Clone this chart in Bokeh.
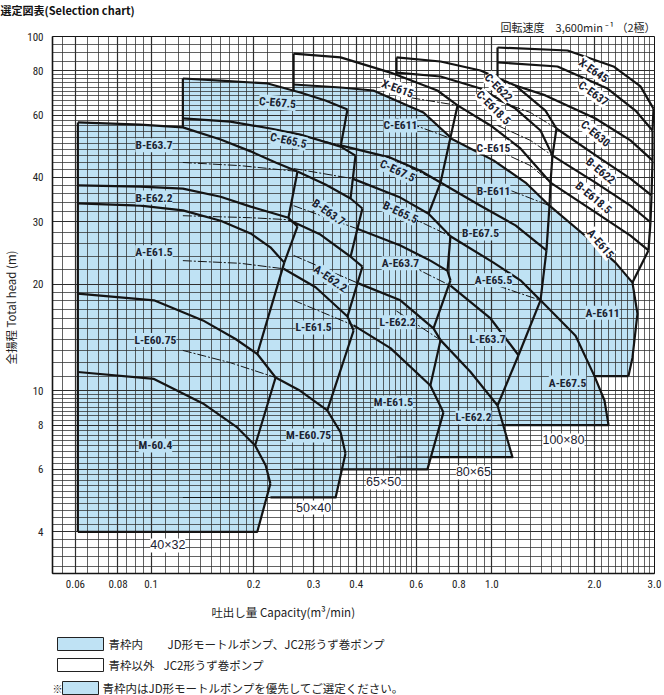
import math
from bokeh.plotting import figure
from bokeh.models import Range1d, FixedTicker, Grid, Label, Title
from bokeh.layouts import column
from bokeh.embed import file_html
from bokeh.resources import INLINE
from bokeh.core.properties import value

# ---------------- axes / ticks ----------------
Q_RANGE = (0.0514, 3.0)
H_RANGE = (3.05, 100.0)
X_TICKS = [0.06, 0.08, 0.1, 0.2, 0.3, 0.4, 0.6, 0.8, 1.0, 2.0, 3.0]
X_TICK_LABELS = ["0.06", "0.08", "0.1", "0.2", "0.3", "0.4", "0.6", "0.8", "1.0", "2.0", "3.0"]
Y_TICKS = [4, 6, 8, 10, 20, 30, 40, 60, 80, 100]
Y_TICK_LABELS = ["4", "6", "8", "10", "20", "30", "40", "60", "80", "100"]
X_GRID_STEPS = [(0.055, 0.1, 0.005), (0.1, 0.2, 0.01), (0.2, 0.6, 0.02), (0.6, 1.0, 0.05), (1.0, 3.0, 0.1)]
Y_GRID_STEPS = [(3.2, 6.0, 0.2), (6.0, 10.0, 0.25), (10.0, 20.0, 1.0), (20.0, 80.0, 2.0), (80.0, 100.0, 5.0)]

TITLE = "選定図表(Selection chart)"
SPEED = "回転速度　3,600min ⁻¹ （2極）"
X_LABEL = "吐出し量  Capacity(m³/min)"
Y_LABEL = "全揚程  Total head  (m)"

# ---------------- pump frames (capacity m3/min, head m) ----------------
# 40x32
F1_QL, F1_HB, F1_QBR, F1_BLUE_FROM, F1_LEFT_VIS, F1_BOTTOM_VIS = 0.061, 4.0, 0.205, 0, 4.0, 0.061
F1_Q = [[0.061, 0.093, 0.124, 0.160, 0.196, 0.232, 0.269],
        [0.061, 0.093, 0.124, 0.160, 0.196, 0.253, 0.269],
        [0.061, 0.093, 0.124, 0.160, 0.196, 0.224, 0.246],
        [0.061, 0.102, 0.142, 0.177, 0.205, 0.232],
        [0.061, 0.102, 0.142, 0.179, 0.202, 0.217, 0.224]]
F1_H = [[57.2, 56.4, 55.4, 51.2, 47.4, 44.1, 41.6],
        [38.0, 37.7, 37.2, 35.3, 33.1, 30.8, 29.1],
        [33.8, 33.3, 32.3, 30.2, 27.8, 25.4, 23.0],
        [18.8, 18.0, 15.8, 14.0, 12.7, 10.9],
        [11.3, 10.8, 9.21, 7.88, 7.01, 6.15, 5.47]]
F1_P = [0, 5, 6, 4, 4]
F1_HID = [0, 0, 0, 0, 0]

# 50x40
F2_QL, F2_HB, F2_QBR, F2_BLUE_FROM, F2_LEFT_VIS, F2_BOTTOM_VIS = 0.124, 5.0, 0.348, 0, 55.4, 0.224
F2_Q = [[0.124, 0.160, 0.220, 0.274, 0.325, 0.377],
        [0.124, 0.171, 0.224, 0.274, 0.360, 0.398],
        [0.124, 0.183, 0.269, 0.325, 0.385, 0.417],
        [0.124, 0.196, 0.253, 0.314, 0.385, 0.417],
        [0.124, 0.183, 0.245, 0.304, 0.377, 0.393],
        [0.124, 0.171, 0.232, 0.274, 0.329, 0.360, 0.372]]
F2_H = [[76.1, 75.1, 73.7, 69.5, 66.0, 62.2],
        [58.7, 57.5, 55.0, 52.9, 48.9, 46.1],
        [44.1, 43.2, 41.6, 38.2, 34.9, 32.7],
        [31.2, 30.8, 30.4, 27.6, 23.9, 22.4],
        [23.3, 22.9, 22.1, 19.6, 16.2, 14.8],
        [13.0, 12.0, 10.9, 10.0, 8.80, 7.63, 6.65]]
F2_P = [0, 4, 4, 4, 4, 4]
F2_HID = [0, 0, 2, 2, 2, 2]

# 65x50
F3_QL, F3_HB, F3_QBR, F3_BLUE_FROM, F3_LEFT_VIS, F3_BOTTOM_VIS = 0.262, 6.0, 0.647, 1, 70.5, 0.364
F3_Q = [[0.262, 0.360, 0.504, 0.692, 0.793],
        [0.262, 0.360, 0.449, 0.630, 0.756],
        [0.262, 0.360, 0.504, 0.617, 0.707],
        [0.262, 0.390, 0.539, 0.652, 0.756],
        [0.262, 0.401, 0.539, 0.660, 0.741, 0.756],
        [0.262, 0.406, 0.539, 0.674, 0.707],
        [0.262, 0.393, 0.504, 0.660, 0.721]]
F3_H = [[89.5, 87.3, 79.1, 70.4, 63.9],
        [73.2, 71.8, 70.4, 61.0, 51.9],
        [53.2, 49.3, 45.5, 41.8, 38.7],
        [42.4, 39.7, 35.1, 31.6, 27.3],
        [33.3, 28.7, 25.7, 23.3, 21.8, 20.5],
        [24.1, 20.1, 18.0, 15.0, 13.9],
        [18.0, 15.3, 13.2, 10.35, 8.69]]
F3_P = [0, 4, 4, 3, 4, 3, 3]
F3_HID = [0, 0, 1, 1, 1, 1, 1]

# 80x65
F4_QL, F4_HB, F4_QBR, F4_BLUE_FROM, F4_LEFT_VIS, F4_BOTTOM_VIS = 0.525, 6.5, 1.149, 3, 78.3, 0.664
F4_Q = [[0.525, 0.707, 0.926, 1.173, 1.436, 1.547],
        [0.525, 0.707, 0.926, 1.173, 1.389, 1.506],
        [0.525, 0.793, 0.991, 1.213, 1.486],
        [0.525, 0.756, 1.011, 1.255, 1.476],
        [0.525, 0.707, 0.926, 1.173, 1.446],
        [0.525, 0.756, 1.011, 1.213, 1.389],
        [0.525, 0.756, 0.991, 1.197],
        [0.525, 0.707, 0.866, 1.039]]
F4_H = [[87.3, 85.0, 80.2, 72.7, 61.8, 55.0],
        [79.1, 77.1, 71.3, 62.6, 54.3, 46.1],
        [68.2, 63.9, 56.1, 48.3, 38.7],
        [58.7, 51.6, 44.7, 38.7, 33.3],
        [44.7, 38.7, 33.3, 29.3, 24.9],
        [32.3, 27.3, 23.0, 20.5, 18.0],
        [23.6, 19.8, 16.0, 12.6],
        [16.8, 13.9, 11.3, 9.09]]
F4_P = [0, 5, 4, 4, 4, 4, 3, 3]
F4_HID = [0, 0, 1, 1, 1, 1, 1, 1]

# 100x80
F5_QL, F5_HB, F5_QBR, F5_BLUE_FROM, F5_LEFT_VIS, F5_BOTTOM_VIS = 1.039, 8.0, 2.199, 6, 76.9, 1.08
F5_Q = [[1.039, 1.667, 2.274, 2.729, 2.980],
        [1.039, 1.558, 2.184, 2.638, 2.960],
        [1.039, 1.173, 1.436, 2.014, 2.550, 2.960],
        [1.039, 1.298, 1.547, 2.083, 2.550, 2.940],
        [1.039, 1.298, 1.506, 2.014, 2.550, 2.920],
        [1.039, 1.298, 1.486, 2.014, 2.550, 2.880],
        [1.039, 1.476, 1.947, 2.305, 2.585, 2.674, 2.585, 2.516],
        [1.039, 1.389, 1.760, 2.000, 2.140, 2.199]]
F5_H = [[93.1, 91.3, 82.3, 72.3, 62.6],
        [84.5, 82.3, 71.3, 61.8, 54.3],
        [75.1, 72.7, 68.2, 58.7, 50.9, 44.7],
        [66.0, 61.0, 55.0, 45.2, 39.7, 35.6],
        [56.1, 50.9, 46.1, 38.7, 33.3, 29.9],
        [47.7, 43.2, 38.7, 31.9, 27.4, 24.9],
        [38.0, 33.3, 26.6, 23.0, 20.2, 16.5, 12.4, 11.0],
        [19.8, 18.0, 14.3, 11.0, 9.39, 8.0]]
F5_P = [0, 4, 5, 5, 5, 5, 4, 3]
F5_HID = [0, 0, 1, 2, 2, 2, 1, 1]

# model labels: text, Q, H, angle (deg), background (b=blue, w=white)
MODEL_TEXT = ["B-E63.7", "B-E62.2", "A-E61.5", "L-E60.75", "M-60.4",
              "C-E67.5", "C-E65.5", "B-E63.7", "A-E62.2", "L-E61.5", "M-E60.75",
              "X-E615", "C-E611", "C-E67.5", "B-E65.5", "A-E63.7", "L-E62.2", "M-E61.5",
              "C-E622", "C-E618.5", "C-E615", "B-E611", "B-E67.5", "A-E65.5", "L-E63.7", "L-E62.2",
              "X-E645", "C-E637", "C-E630", "B-E622", "B-E618.5", "A-E615", "A-E611", "A-E67.5"]
MODEL_Q = [0.102, 0.102, 0.102, 0.103, 0.103,
           0.235, 0.253, 0.332, 0.336, 0.300, 0.290,
           0.529, 0.539, 0.529, 0.539, 0.539, 0.529, 0.514,
           1.046, 1.011, 1.011, 1.011, 0.926, 1.011, 0.971, 0.883,
           1.987, 1.987, 2.014, 2.083, 1.987, 2.083, 2.111, 1.667]
MODEL_H = [49.3, 35.1, 24.6, 13.9, 7.01,
           65.1, 50.9, 31.9, 20.75, 15.1, 7.48,
           71.3, 56.1, 41.8, 31.9, 22.9, 15.6, 9.27,
           71.8, 63.0, 48.6, 36.7, 27.8, 20.5, 14.0, 8.41,
           80.2, 69.1, 53.2, 41.8, 35.1, 26.0, 16.6, 10.55]
MODEL_ANGLE = [0, 0, 0, 0, 0,
               -5, -12, -35, -35, 0, 0,
               -20, 0, -25, -25, 0, 0, 0,
               -45, -45, 0, 0, 0, 0, 0, 0,
               -35, -35, -40, -40, -40, -50, 0, 0]
MODEL_BG = ["b"] * 11 + ["w", "b", "b", "b", "b", "b", "b"] + ["w", "w", "w", "b", "b", "b", "b", "b"] + ["w"] * 6 + ["b", "b"]

SIZE_TEXT = ["40×32", "50×40", "65×50", "80×65", "100×80"]
SIZE_Q = [0.112, 0.300, 0.481, 0.883, 1.622]
SIZE_H = [3.66, 4.68, 5.51, 5.88, 7.24]

LEGEND_SWATCH = ["blue", "white", "blue"]
LEGEND_TEXT_A = ["青枠内", "青枠以外"]
LEGEND_TEXT_B = ["JD形モートルポンプ、JC2形うず巻ポンプ", "JC2形うず巻ポンプ", "青枠内はJD形モートルポンプを優先してご選定ください。"]

# ---------------- style ----------------
BLUE = "#bfe2f4"
INK = "#141414"
GRIDC = "#2e2e2e"
NARROW = "Liberation Sans Narrow, Arial Narrow, Roboto Condensed, sans-serif"
JP = "Noto Sans CJK JP"
TXT = "#222222"

FRAMES = [
    (F1_QL, F1_HB, F1_QBR, F1_Q, F1_H, F1_P, F1_HID, F1_BLUE_FROM, F1_LEFT_VIS, F1_BOTTOM_VIS),
    (F2_QL, F2_HB, F2_QBR, F2_Q, F2_H, F2_P, F2_HID, F2_BLUE_FROM, F2_LEFT_VIS, F2_BOTTOM_VIS),
    (F3_QL, F3_HB, F3_QBR, F3_Q, F3_H, F3_P, F3_HID, F3_BLUE_FROM, F3_LEFT_VIS, F3_BOTTOM_VIS),
    (F4_QL, F4_HB, F4_QBR, F4_Q, F4_H, F4_P, F4_HID, F4_BLUE_FROM, F4_LEFT_VIS, F4_BOTTOM_VIS),
    (F5_QL, F5_HB, F5_QBR, F5_Q, F5_H, F5_P, F5_HID, F5_BLUE_FROM, F5_LEFT_VIS, F5_BOTTOM_VIS),
]


def grid_values(specs):
    out = []
    for a, b, s in specs:
        n = int(round((b - a) / s))
        out += [round(a + k * s, 4) for k in range(n)]
    out.append(specs[-1][1])
    return sorted(set(out))


p = figure(width=664, height=627, x_axis_type="log", y_axis_type="log",
           x_range=Range1d(*Q_RANGE), y_range=Range1d(*H_RANGE),
           output_backend="svg", toolbar_location=None,
           min_border_left=52, min_border_right=10, min_border_top=36, min_border_bottom=54)
p.xgrid.visible = False
p.ygrid.visible = False
p.background_fill_color = "white"
p.outline_line_color = INK
p.outline_line_width = 1

# titles above the frame (outer: chart title, inner: speed note)
p.title.text = TITLE
p.title.align = "left"
p.title.offset = -52
p.title.text_font = JP
p.title.text_font_style = "bold"
p.title.text_color = "#111111"
speed = Title(text=SPEED, align="right", offset=-1, text_font=JP,
              text_font_style="normal", text_color=TXT)
try:
    # keep both title rows inside the 36px top border, title fully on the page
    p.title.standoff = -2.5
    p.title.text_font_size = "11px"
    speed.standoff = 2.4
    speed.text_font_size = "11px"
except Exception:
    p.title.standoff = 0
    p.title.text_font_size = "11px"
    speed.standoff = 0
    speed.text_font_size = "10.5px"
p.add_layout(speed, "above")

for ticks, dim, w in [(grid_values(X_GRID_STEPS), 0, 0.75), (grid_values(Y_GRID_STEPS), 1, 0.75),
                      (X_TICKS, 0, 1.2), (Y_TICKS, 1, 1.2)]:
    p.add_layout(Grid(dimension=dim, ticker=FixedTicker(ticks=ticks),
                      grid_line_color=GRIDC, grid_line_width=w))

# blue fills (under the grid)
for QL, HB, QBR, CQ, CH, P, HID, K, LV, BV in FRAMES:
    xs = [QL] + list(CQ[K])
    ys = [HB] + list(CH[K])
    for i in range(K + 1, len(CQ)):
        xs += CQ[i][P[i]:]
        ys += CH[i][P[i]:]
    xs.append(QBR)
    ys.append(HB)
    p.patch(xs, ys, fill_color=BLUE, line_color=None, level="image")

# frames and head curves
thick_x, thick_y, thin_x, thin_y, dash_x, dash_y = [], [], [], [], [], []
for QL, HB, QBR, CQ, CH, P, HID, K, LV, BV in FRAMES:
    thick_x.append([QL, QL]); thick_y.append([LV, CH[0][0]])
    for i in range(len(CQ)):
        thick_x.append(CQ[i][HID[i]:]); thick_y.append(CH[i][HID[i]:])
        if HID[i] > 0:
            dash_x.append(CQ[i][:HID[i] + 1]); dash_y.append(CH[i][:HID[i] + 1])
        if i > 0:
            thick_x.append([CQ[i - 1][-1], CQ[i][P[i]]]); thick_y.append([CH[i - 1][-1], CH[i][P[i]]])
    thick_x.append([CQ[-1][-1], QBR, BV]); thick_y.append([CH[-1][-1], HB, HB])
    if BV > QL:
        thin_x.append([BV, QL]); thin_y.append([HB, HB])

p.multi_line(dash_x, dash_y, line_color=INK, line_width=1.0, line_dash="9 2 2 2")
p.multi_line(thin_x, thin_y, line_color=INK, line_width=1.1)
p.multi_line(thick_x, thick_y, line_color=INK, line_width=2.2, line_join="round")

for t, q, h, a, bg in zip(MODEL_TEXT, MODEL_Q, MODEL_H, MODEL_ANGLE, MODEL_BG):
    p.add_layout(Label(x=q, y=h, text=t, angle=math.radians(a), text_align="center",
                       text_baseline="middle", text_font=NARROW, text_font_size="11.5px",
                       text_font_style="bold", text_color="#1b2231",
                       background_fill_color=BLUE if bg == "b" else "white", background_fill_alpha=1.0))
for t, q, h in zip(SIZE_TEXT, SIZE_Q, SIZE_H):
    p.add_layout(Label(x=q, y=h, text=t, text_align="center", text_baseline="middle",
                       text_font="Liberation Sans, Roboto, sans-serif", text_font_size="12.5px",
                       text_color="#1b2231", background_fill_color="white", background_fill_alpha=1.0))

p.xaxis.ticker = FixedTicker(ticks=X_TICKS)
p.yaxis.ticker = FixedTicker(ticks=Y_TICKS)
xo = {t: l for t, l in zip(X_TICKS, X_TICK_LABELS)}
xo.update({("%g" % t): l for t, l in zip(X_TICKS, X_TICK_LABELS)})
yo = {t: l for t, l in zip(Y_TICKS, Y_TICK_LABELS)}
yo.update({("%g" % t): l for t, l in zip(Y_TICKS, Y_TICK_LABELS)})
p.xaxis.major_label_overrides = xo
p.yaxis.major_label_overrides = yo
for ax, so in [(p.xaxis, 0), (p.yaxis, 3)]:
    ax.major_tick_line_color = None
    ax.minor_tick_line_color = None
    ax.axis_line_color = INK
    ax.axis_line_width = 1.6
    ax.major_label_text_font = NARROW
    ax.major_label_text_font_size = "11px"
    ax.major_label_text_color = TXT
    ax.major_label_standoff = so
    ax.axis_label_text_font = JP
    ax.axis_label_text_font_size = "11.5px"
    ax.axis_label_text_font_style = "normal"
    ax.axis_label_text_color = TXT
# x label sits left of the frame centre in the original: pad it with ideographic spaces
p.xaxis.axis_label = X_LABEL + "\u3000" * 12
p.xaxis.axis_label_standoff = 13
p.yaxis.axis_label = Y_LABEL
p.yaxis.axis_label_standoff = 5

# legend strip: its frame is aligned with the chart frame (x 52..654), data units = page pixels
lg = figure(width=664, height=68, x_range=Range1d(52, 654), y_range=Range1d(695, 627),
            output_backend="svg", toolbar_location=None, x_axis_location=None, y_axis_location=None,
            min_border=0, min_border_left=52, min_border_right=10)
lg.grid.visible = False
lg.outline_line_color = None
sw = [BLUE if s == "blue" else "white" for s in LEGEND_SWATCH]
lg.quad(left=[57, 57, 62], right=[103, 103, 98], top=[637, 658, 681], bottom=[650, 671, 694],
        fill_color=sw, line_color="#222222", line_width=1)
lg.text(x=[108, 108], y=[643.5, 664.5], text=LEGEND_TEXT_A, text_font=value(JP),
        text_font_size="11.5px", text_baseline="middle", text_color=TXT)
lg.text(x=[167, 163, 102], y=[643.5, 664.5, 687.5], text=LEGEND_TEXT_B, text_font=value(JP),
        text_font_size="11.5px", text_baseline="middle", text_color=TXT)
lg.text(x=[57], y=[687.5], text=["※"], text_font=value(JP), text_font_size="10px",
        text_baseline="middle", text_align="center", text_color=TXT)

layout = column(p, lg, spacing=0)
open("out.html", "w").write(file_html(layout, INLINE))
